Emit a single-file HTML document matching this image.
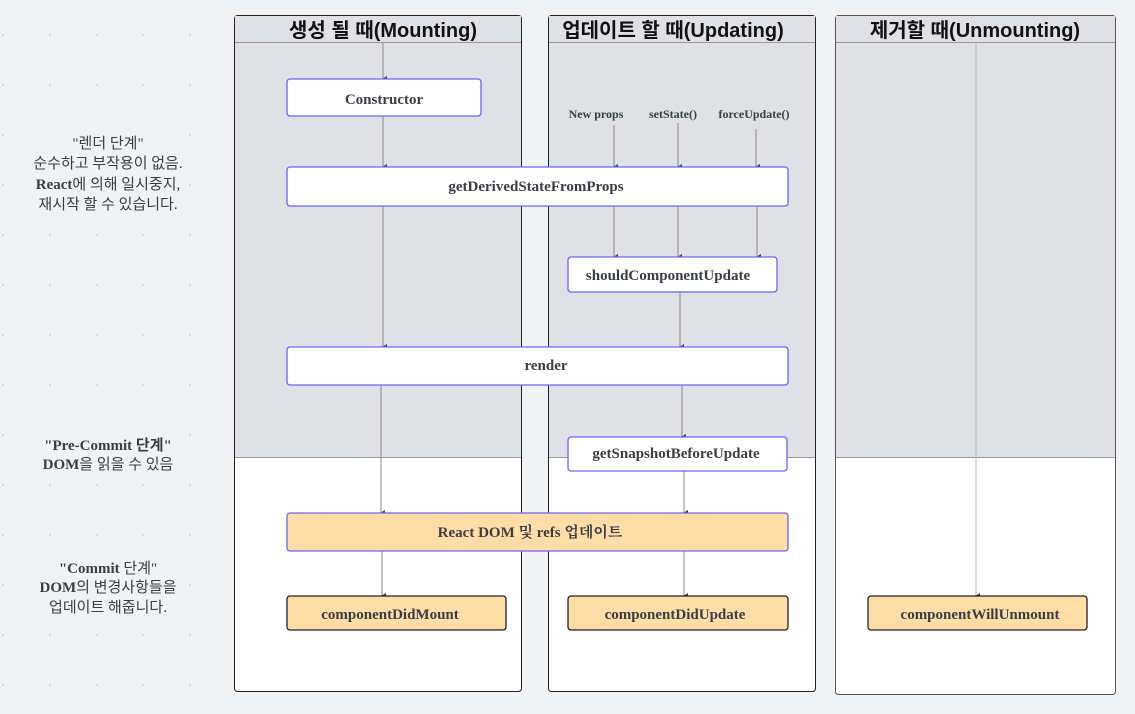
<!DOCTYPE html>
<html><head><meta charset="utf-8"><style>
html,body{margin:0;padding:0;background:#f1f2f4;}
svg{display:block;}
.n{font-family:"Liberation Serif","Noto Serif CJK SC",serif;font-weight:bold;font-size:15px;fill:#3a3d44;}
.s{font-family:"Liberation Serif",serif;font-weight:bold;font-size:12px;fill:#3a3d44;}
.h{font-family:"Liberation Sans","Noto Sans CJK KR",sans-serif;font-weight:bold;font-size:20px;fill:#111;}
.l{font-family:"Liberation Serif","Noto Sans CJK KR",serif;font-size:15px;fill:#3a3d44;}
</style></head><body>
<svg width="1135" height="714" viewBox="0 0 1135 714" xmlns="http://www.w3.org/2000/svg">
<defs><marker id="a" markerWidth="8" markerHeight="8" refX="4" refY="6" orient="auto" markerUnits="userSpaceOnUse"><path d="M1,2 L7,2 L4,7 z" fill="#444"/></marker></defs>
<g fill="#b8bcc4">
<circle cx="3" cy="35" r="0.8"/><circle cx="50" cy="35" r="0.8"/><circle cx="97" cy="35" r="0.8"/><circle cx="143" cy="35" r="0.8"/><circle cx="190" cy="35" r="0.8"/>
<circle cx="3" cy="85" r="0.8"/><circle cx="50" cy="85" r="0.8"/><circle cx="97" cy="85" r="0.8"/><circle cx="143" cy="85" r="0.8"/><circle cx="190" cy="85" r="0.8"/>
<circle cx="3" cy="135" r="0.8"/><circle cx="190" cy="135" r="0.8"/>
<circle cx="3" cy="185" r="0.8"/><circle cx="190" cy="185" r="0.8"/>
<circle cx="3" cy="235" r="0.8"/><circle cx="50" cy="235" r="0.8"/><circle cx="97" cy="235" r="0.8"/><circle cx="143" cy="235" r="0.8"/><circle cx="190" cy="235" r="0.8"/>
<circle cx="3" cy="285" r="0.8"/><circle cx="50" cy="285" r="0.8"/><circle cx="97" cy="285" r="0.8"/><circle cx="143" cy="285" r="0.8"/><circle cx="190" cy="285" r="0.8"/>
<circle cx="3" cy="335" r="0.8"/><circle cx="50" cy="335" r="0.8"/><circle cx="97" cy="335" r="0.8"/><circle cx="143" cy="335" r="0.8"/><circle cx="190" cy="335" r="0.8"/>
<circle cx="3" cy="385" r="0.8"/><circle cx="50" cy="385" r="0.8"/><circle cx="97" cy="385" r="0.8"/><circle cx="143" cy="385" r="0.8"/><circle cx="190" cy="385" r="0.8"/>
<circle cx="3" cy="435" r="0.8"/><circle cx="190" cy="435" r="0.8"/>
<circle cx="3" cy="485" r="0.8"/><circle cx="50" cy="485" r="0.8"/><circle cx="97" cy="485" r="0.8"/><circle cx="143" cy="485" r="0.8"/><circle cx="190" cy="485" r="0.8"/>
<circle cx="3" cy="535" r="0.8"/><circle cx="50" cy="535" r="0.8"/><circle cx="97" cy="535" r="0.8"/><circle cx="143" cy="535" r="0.8"/><circle cx="190" cy="535" r="0.8"/>
<circle cx="3" cy="585" r="0.8"/><circle cx="190" cy="585" r="0.8"/>
<circle cx="3" cy="635" r="0.8"/><circle cx="50" cy="635" r="0.8"/><circle cx="97" cy="635" r="0.8"/><circle cx="143" cy="635" r="0.8"/><circle cx="190" cy="635" r="0.8"/>
<circle cx="3" cy="685" r="0.8"/><circle cx="50" cy="685" r="0.8"/><circle cx="97" cy="685" r="0.8"/><circle cx="143" cy="685" r="0.8"/><circle cx="190" cy="685" r="0.8"/>
</g>
<!-- lanes -->
<rect x="234.5" y="15.5" width="287" height="676" rx="3" fill="#fff" stroke="#222"/>
<rect x="235" y="16" width="286" height="441" fill="#dfe1e6"/>
<line x1="235" y1="42.5" x2="521" y2="42.5" stroke="#999"/>
<line x1="235" y1="457.5" x2="521" y2="457.5" stroke="#999"/>
<rect x="548.5" y="15.5" width="267" height="676" rx="3" fill="#fff" stroke="#222"/>
<rect x="549" y="16" width="266" height="441" fill="#dfe1e6"/>
<line x1="549" y1="42.5" x2="815" y2="42.5" stroke="#999"/>
<line x1="549" y1="457.5" x2="815" y2="457.5" stroke="#999"/>
<rect x="835.5" y="15.5" width="280" height="679" rx="3" fill="#fff" stroke="#555"/>
<rect x="836" y="16" width="279" height="441" fill="#dfe1e6"/>
<line x1="836" y1="42.5" x2="1115" y2="42.5" stroke="#999"/>
<line x1="836" y1="457.5" x2="1115" y2="457.5" stroke="#999"/>
<text class="h" x="383" y="37" text-anchor="middle">생성 될 때(Mounting)</text>
<text class="h" x="673" y="37" text-anchor="middle">업데이트 할 때(Updating)</text>
<text class="h" x="975" y="37" text-anchor="middle">제거할 때(Unmounting)</text>
<!-- connectors -->
<g stroke="#888" stroke-width="1" marker-end="url(#a)">
<line x1="383" y1="43" x2="383" y2="79"/>
<line x1="383" y1="116" x2="383" y2="167"/>
<line x1="383" y1="206" x2="383" y2="347"/>
<line x1="381" y1="385" x2="381" y2="513"/>
<line x1="382" y1="551" x2="382" y2="596"/>
<line x1="614" y1="125" x2="614" y2="167"/>
<line x1="678" y1="123" x2="678" y2="167"/>
<line x1="756" y1="129" x2="756" y2="167"/>
<line x1="614" y1="206" x2="614" y2="257"/>
<line x1="678" y1="206" x2="678" y2="257"/>
<line x1="757" y1="206" x2="757" y2="257"/>
<line x1="680" y1="292" x2="680" y2="347"/>
<line x1="682" y1="385" x2="682" y2="437"/>
<line x1="684" y1="471" x2="684" y2="513"/>
<line x1="684" y1="551" x2="684" y2="596"/>
<line x1="976" y1="43" x2="976" y2="596" stroke="#b5b8be"/>
</g>
<text class="s" x="596" y="118" text-anchor="middle">New props</text>
<text class="s" x="673" y="118" text-anchor="middle">setState()</text>
<text class="s" x="754" y="118" text-anchor="middle">forceUpdate()</text>
<!-- nodes -->
<g stroke="#6f63f6" stroke-width="1.3">
<rect x="287" y="79" width="194" height="37" rx="3" fill="#fff"/>
<rect x="287" y="167" width="501" height="39" rx="3" fill="#fff"/>
<rect x="568" y="257" width="209" height="35" rx="3" fill="#fff"/>
<rect x="287" y="347" width="501" height="38" rx="3" fill="#fff"/>
<rect x="568" y="437" width="219" height="34" rx="3" fill="#fff"/>
<rect x="287" y="513" width="501" height="38" rx="3" fill="#fedda7"/>
</g>
<g stroke="#222" stroke-width="1.3" fill="#fedda7">
<rect x="287" y="596" width="219" height="34" rx="3"/>
<rect x="568" y="596" width="220" height="34" rx="3"/>
<rect x="868" y="596" width="219" height="34" rx="3"/>
</g>
<text class="n" x="384" y="104" text-anchor="middle">Constructor</text>
<text class="n" x="536" y="191" text-anchor="middle">getDerivedStateFromProps</text>
<text class="n" x="668" y="280" text-anchor="middle">shouldComponentUpdate</text>
<text class="n" x="546" y="370" text-anchor="middle">render</text>
<text class="n" x="676" y="458" text-anchor="middle">getSnapshotBeforeUpdate</text>
<text class="n" x="530" y="537" text-anchor="middle">React DOM 및 refs 업데이트</text>
<text class="n" x="390" y="619" text-anchor="middle">componentDidMount</text>
<text class="n" x="675" y="619" text-anchor="middle">componentDidUpdate</text>
<text class="n" x="980" y="619" text-anchor="middle">componentWillUnmount</text>
<!-- side labels -->
<g class="l" text-anchor="middle">
<text x="108" y="148">"렌더 단계"</text>
<text x="108" y="168">순수하고 부작용이 없음.</text>
<text x="108" y="189"><tspan font-weight="bold">React</tspan>에 의해 일시중지,</text>
<text x="108" y="209">재시작 할 수 있습니다.</text>
<text x="108" y="450" font-weight="bold">"Pre-Commit 단계"</text>
<text x="108" y="469"><tspan font-weight="bold">DOM</tspan>을 읽을 수 있음</text>
<text x="108" y="573"><tspan font-weight="bold">"Commit</tspan> 단계"</text>
<text x="108" y="592"><tspan font-weight="bold">DOM</tspan>의 변경사항들을</text>
<text x="108" y="612">업데이트 해줍니다.</text>
</g>
</svg>
</body></html>
